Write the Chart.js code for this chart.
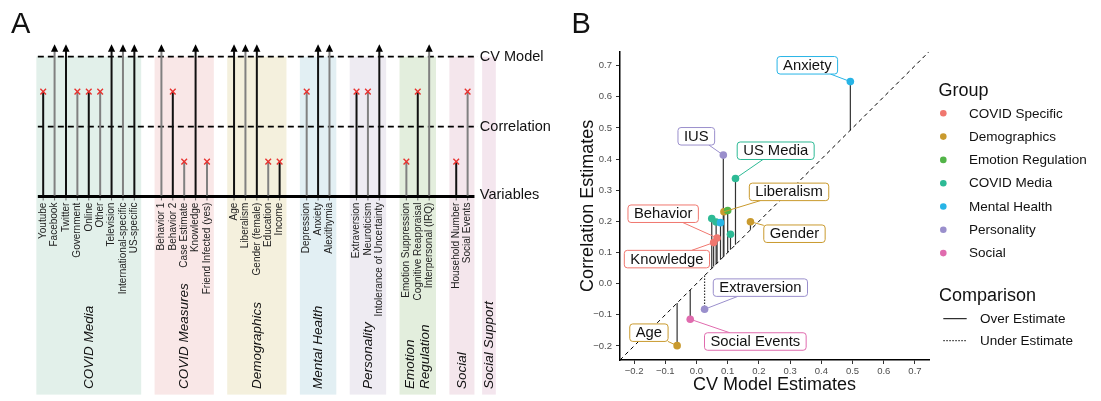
<!DOCTYPE html>
<html><head><meta charset="utf-8">
<script src="https://cdn.jsdelivr.net/npm/chart.js@4.4.1/dist/chart.umd.min.js"></script>
<style>
html,body{margin:0;padding:0;background:#fff;width:1101px;height:401px;overflow:hidden;}
#wa{position:absolute;left:0;top:0;width:560px;height:401px;}
#wb{position:absolute;left:560px;top:0;width:541px;height:401px;}
</style></head><body>
<div id="wa"><canvas id="ca"></canvas></div>
<div id="wb"><canvas id="cb"></canvas></div>
<script>
// ================= DATA =================
// Panel A
const groupsA = ['COVID Media','COVID Measures','Demographics','Mental Health','Personality','Emotion\nRegulation','Social','Social Support'];
const groupVarsA = [
  ['Youtube','Facebook','Twitter','Government','Online','Other','Television','International-specific','US-specific'],
  ['Behavior 1','Behavior 2','Case Estimate','Knowledge','Friend Infected (yes)'],
  ['Age','Liberalism','Gender (female)','Education','Income'],
  ['Depression','Anxiety','Alexithymia'],
  ['Extraversion','Neuroticism','Intolerance of Uncertainty'],
  ['Emotion Suppression','Cognitive Reappraisal','Interpersonal (IRQ)'],
  ['Household Number','Social Events'],
  []
];
// 'cv' = retained past the CV model, 'high' = dropped between correlation and CV model, 'low' = dropped below correlation
const groupLevelsA = [
  ['high','cv','cv','high','high','high','cv','cv','cv'],
  ['cv','high','low','cv','low'],
  ['cv','cv','cv','low','low'],
  ['high','cv','cv'],
  ['high','high','cv'],
  ['low','high','cv'],
  ['low','high'],
  []
];
const levelNamesA = ['Variables','Correlation','CV Model'];

// Panel B
const pointLabels   = ['Anxiety','IUS','US Media','Liberalism','','Gender','','','','','Behavior','Knowledge','Extraversion','Social Events','Age'];
const cvEstimates   = [0.493, 0.086, 0.125, 0.088, 0.100, 0.173, 0.049, 0.063, 0.109, 0.077, 0.066, 0.055, 0.026, -0.020, -0.062];
const corEstimates  = [0.649, 0.413, 0.338, 0.231, 0.235, 0.199, 0.209, 0.198, 0.159, 0.196, 0.147, 0.132, -0.082, -0.114, -0.199];
const pointGroups   = ['Mental Health','Personality','COVID Media','Demographics','Emotion Regulation','Demographics','COVID Media','COVID Media','COVID Media','Mental Health','COVID Specific','COVID Specific','Personality','Social','Demographics'];
const pointCompare  = ['Over Estimate','Over Estimate','Over Estimate','Over Estimate','Over Estimate','Over Estimate','Over Estimate','Over Estimate','Over Estimate','Over Estimate','Over Estimate','Over Estimate','Under Estimate','Over Estimate','Over Estimate'];
const legendGroups  = ['COVID Specific','Demographics','Emotion Regulation','COVID Media','Mental Health','Personality','Social'];
const compareLevels = ['Over Estimate','Under Estimate'];
const tickValuesB   = [-0.2,-0.1,0.0,0.1,0.2,0.3,0.4,0.5,0.6,0.7];

// ================= STYLE / LAYOUT =================
const FONT = '"Liberation Sans", Arial, Helvetica, sans-serif';
const bandColors = ['#E2F0EA','#F9E7E7','#F4F0DD','#E2EFF3','#EEEBF2','#E3EEDD','#F4E6EC','#F4E6EE'];
const groupColors = {
  'COVID Specific':'#F0776F','Demographics':'#C99A2E','Emotion Regulation':'#52B448',
  'COVID Media':'#2DBA95','Mental Health':'#27B4E6','Personality':'#9A8FCC','Social':'#E06BAE'
};
const levelValue = {cv:2.08, high:1.5, low:0.5};
const GROUP_GAP = 1.374;
const SLOT_PX = 11.62, X0_PX = 38.53;

// positions of variables along panel A
const varsA = [];
let gIdx = 0;
groupVarsA.forEach((vars, g) => {
  vars.forEach((name, j) => {
    varsA.push({name, g, j, idx: gIdx, pos: gIdx + GROUP_GAP * g, level: groupLevelsA[g][j]});
    gIdx++;
  });
});
const bandsA = groupsA.map((name, g) => {
  const vs = varsA.filter(v => v.g === g);
  if (vs.length) return {name, g, from: vs[0].pos - 0.6, to: vs[vs.length-1].pos + 0.6};
  const c = gIdx - 0.5 + GROUP_GAP * g;
  return {name, g, from: c - 0.6, to: c + 0.6};
});
const lastPos = varsA[varsA.length-1].pos;

// ================= PANEL A =================
const panelAPlugin = {
  id: 'panelA',
  beforeDatasetsDraw(chart) {
    const ctx = chart.ctx, xs = chart.scales.x, ys = chart.scales.y;
    const X = v => xs.getPixelForValue(v), Y = v => ys.getPixelForValue(v);
    ctx.save();
    // bands
    bandsA.forEach(b => {
      ctx.fillStyle = bandColors[b.g];
      ctx.fillRect(X(b.from), Y(2), X(b.to) - X(b.from), Y(-2.83) - Y(2));
    });
    // dashed reference lines
    const lx0 = X(-0.47), lx1 = X(lastPos + 0.9);
    ctx.strokeStyle = '#000'; ctx.lineWidth = 1.8; ctx.setLineDash([6,4]);
    [1,2].forEach(l => { ctx.beginPath(); ctx.moveTo(lx0, Y(l)); ctx.lineTo(lx1, Y(l)); ctx.stroke(); });
    ctx.setLineDash([]);
    // baseline
    ctx.lineWidth = 3;
    ctx.beginPath(); ctx.moveTo(lx0, Y(0)); ctx.lineTo(X(lastPos + 0.6), Y(0)); ctx.stroke();
    // stems + arrow heads + axis ticks
    varsA.forEach(v => {
      const x = X(v.pos);
      ctx.strokeStyle = v.idx % 2 === 0 ? '#111' : '#808080';
      ctx.lineWidth = 2;
      ctx.beginPath(); ctx.moveTo(x, Y(0) - 1); ctx.lineTo(x, Y(levelValue[v.level])); ctx.stroke();
      if (v.level === 'cv') {
        const tip = Y(2.177), base = Y(2.07);
        ctx.fillStyle = '#000';
        ctx.beginPath(); ctx.moveTo(x, tip); ctx.lineTo(x - 3.6, base); ctx.lineTo(x + 3.6, base); ctx.closePath(); ctx.fill();
      }
      ctx.strokeStyle = '#666'; ctx.lineWidth = 1;
      ctx.beginPath(); ctx.moveTo(x, Y(0) + 1.5); ctx.lineTo(x, Y(0) + 3.8); ctx.stroke();
    });
    // variable labels
    ctx.fillStyle = '#222';
    ctx.font = '10px ' + FONT;
    ctx.textAlign = 'right'; ctx.textBaseline = 'middle';
    varsA.forEach(v => {
      ctx.save(); ctx.translate(X(v.pos), Y(0) + 6); ctx.rotate(-Math.PI/2);
      ctx.fillText(v.name, 0, 0); ctx.restore();
    });
    // group labels
    ctx.font = 'italic 13.5px ' + FONT;
    ctx.textAlign = 'left'; ctx.fillStyle = '#111';
    bandsA.forEach(b => {
      const lines = b.name.split('\n');
      const cx = (X(b.from) + X(b.to)) / 2;
      lines.forEach((ln, k) => {
        const off = (k - (lines.length - 1) / 2) * 15;
        ctx.save(); ctx.translate(cx + off, 389); ctx.rotate(-Math.PI/2);
        ctx.fillText(ln, 0, 0); ctx.restore();
      });
    });
    // level names
    ctx.font = '14.5px ' + FONT; ctx.fillStyle = '#111';
    levelNamesA.forEach((n, l) => ctx.fillText(n, lx1 + 2, Y(l) - (l === 0 ? 2 : 0)));
    // panel letter
    ctx.font = '29px ' + FONT; ctx.textBaseline = 'alphabetic'; ctx.fillStyle = '#111';
    ctx.fillText('A', 11, 32.5);
    ctx.restore();
  }
};

const dropped = varsA.filter(v => v.level !== 'cv');
new Chart(document.getElementById('ca'), {
  type: 'scatter',
  data: { datasets: [{
    data: dropped.map(v => ({x: v.pos, y: levelValue[v.level]})),
    pointStyle: 'crossRot', pointRadius: 4, pointBorderColor: '#E8322F', pointBorderWidth: 1.4,
    pointHoverRadius: 4
  }]},
  options: {
    responsive: true, maintainAspectRatio: false, animation: false,
    layout: {padding: 0},
    plugins: {legend: {display: false}, tooltip: {enabled: false}},
    scales: {
      x: {type: 'linear', display: false, min: -X0_PX / SLOT_PX, max: (560 - X0_PX) / SLOT_PX},
      y: {type: 'linear', display: false, min: (196.5 - 401) / 71.9, max: 196.5 / 71.9}
    }
  },
  plugins: [panelAPlugin]
});

// ================= PANEL B =================
const labelOffsets = { // pixel offset of label box centre from its point
  'Anxiety':[-43,-16.3], 'IUS':[-27,-18.8], 'US Media':[40.2,-27.7], 'Liberalism':[65.1,-19.9],
  'Gender':[44,12], 'Behavior':[-53.9,-24.2], 'Knowledge':[-46.7,16.5], 'Extraversion':[55.8,-21.6],
  'Social Events':[65.1,22.3], 'Age':[-28.2,-13]
};
const fmtTick = v => (v < -1e-9 ? '\u2212' : '') + Math.abs(v).toFixed(1);
const AX_MIN = -0.245, AX_MAX = 0.745;

function roundRect(ctx, x, y, w, h, r) {
  ctx.beginPath();
  ctx.moveTo(x + r, y); ctx.lineTo(x + w - r, y); ctx.arcTo(x + w, y, x + w, y + r, r);
  ctx.lineTo(x + w, y + h - r); ctx.arcTo(x + w, y + h, x + w - r, y + h, r);
  ctx.lineTo(x + r, y + h); ctx.arcTo(x, y + h, x, y + h - r, r);
  ctx.lineTo(x, y + r); ctx.arcTo(x, y, x + r, y, r); ctx.closePath();
}

const panelBPlugin = {
  id: 'panelB',
  beforeDatasetsDraw(chart) {
    const ctx = chart.ctx, xs = chart.scales.x, ys = chart.scales.y;
    ctx.save();
    cvEstimates.forEach((cv, i) => {
      const x = xs.getPixelForValue(cv);
      ctx.strokeStyle = '#333'; ctx.lineWidth = 1.2;
      ctx.setLineDash(pointCompare[i] === 'Under Estimate' ? [1.5, 1.5] : []);
      ctx.beginPath(); ctx.moveTo(x, ys.getPixelForValue(cv)); ctx.lineTo(x, ys.getPixelForValue(corEstimates[i])); ctx.stroke();
    });
    ctx.restore();
  },
  afterDatasetsDraw(chart) {
    const ctx = chart.ctx, xs = chart.scales.x, ys = chart.scales.y, ca = chart.chartArea;
    ctx.save();
    // labels with connectors
    ctx.font = '14.8px ' + FONT; ctx.textBaseline = 'middle'; ctx.textAlign = 'center';
    pointLabels.forEach((lab, i) => {
      if (!lab) return;
      const px = xs.getPixelForValue(cvEstimates[i]), py = ys.getPixelForValue(corEstimates[i]);
      const off = labelOffsets[lab];
      const cx = px + off[0], cy = py + off[1];
      const w = ctx.measureText(lab).width + 12, h = 17.5;
      const col = groupColors[pointGroups[i]];
      // connector: from point to box edge
      const dx = px - cx, dy = py - cy;
      const t = Math.min(Math.abs((w/2) / (dx || 1e-6)), Math.abs((h/2) / (dy || 1e-6)));
      ctx.strokeStyle = col; ctx.lineWidth = 1; ctx.setLineDash([]);
      ctx.beginPath(); ctx.moveTo(cx + dx * t, cy + dy * t); ctx.lineTo(px, py); ctx.stroke();
      roundRect(ctx, cx - w/2, cy - h/2, w, h, 3);
      ctx.fillStyle = '#fff'; ctx.fill();
      ctx.strokeStyle = col; ctx.stroke();
      ctx.fillStyle = '#111'; ctx.fillText(lab, cx, cy + 0.5);
    });
    // axis titles
    ctx.fillStyle = '#111'; ctx.font = '18px ' + FONT;
    ctx.fillText('CV Model Estimates', (ca.left + ca.right) / 2, 385);
    ctx.save(); ctx.translate(28, (ca.top + ca.bottom) / 2); ctx.rotate(-Math.PI/2);
    ctx.fillText('Correlation Estimates', 0, 0); ctx.restore();
    // legend
    ctx.textAlign = 'left';
    ctx.font = '18px ' + FONT; ctx.fillText('Group', 378.5, 91);
    ctx.font = '13.5px ' + FONT;
    legendGroups.forEach((g, k) => {
      const y = 113.3 + 23.3 * k;
      ctx.fillStyle = groupColors[g];
      ctx.beginPath(); ctx.arc(383.3, y, 3.3, 0, Math.PI * 2); ctx.fill();
      ctx.fillStyle = '#111'; ctx.fillText(g, 409, y + 0.5);
    });
    ctx.font = '18px ' + FONT; ctx.fillText('Comparison', 379, 296);
    ctx.font = '13.5px ' + FONT;
    compareLevels.forEach((c, k) => {
      const y = 318.7 + 22 * k;
      ctx.strokeStyle = '#000'; ctx.lineWidth = 1;
      ctx.setLineDash(k === 0 ? [] : [1.5, 1.5]);
      ctx.beginPath(); ctx.moveTo(383.3, y); ctx.lineTo(406.7, y); ctx.stroke();
      ctx.setLineDash([]);
      ctx.fillStyle = '#111'; ctx.fillText(c, 420, y + 0.5);
    });
    // panel letter
    ctx.font = '29px ' + FONT; ctx.textBaseline = 'alphabetic';
    ctx.fillText('B', 11.5, 32.5);
    ctx.restore();
  }
};

new Chart(document.getElementById('cb'), {
  type: 'scatter',
  data: { datasets: [
    { data: cvEstimates.map((x, i) => ({x, y: corEstimates[i]})),
      pointRadius: 3.8, pointHoverRadius: 3.8, pointBorderWidth: 0,
      pointBackgroundColor: pointGroups.map(g => groupColors[g]) },
    { type: 'line', data: [{x: AX_MIN, y: AX_MIN}, {x: AX_MAX, y: AX_MAX}],
      borderColor: '#000', borderWidth: 1, borderDash: [4, 3.5], pointRadius: 0, fill: false }
  ]},
  options: {
    responsive: true, maintainAspectRatio: false, animation: false,
    layout: {padding: {left: 0, right: 172, top: 51.7, bottom: 0}},
    plugins: {legend: {display: false}, tooltip: {enabled: false}},
    scales: {
      x: { type: 'linear', min: AX_MIN, max: AX_MAX,
        afterBuildTicks: s => { s.ticks = tickValuesB.map(value => ({value})); },
        afterFit: s => { s.height = 41; },
        ticks: { callback: fmtTick, font: {size: 9.5, family: FONT}, color: '#4d4d4d', padding: 2, maxRotation: 0, autoSkip: false },
        grid: { drawOnChartArea: false, drawTicks: true, tickLength: 4, color: '#333' },
        border: { display: true, color: '#000', width: 1.5 }
      },
      y: { type: 'linear', min: AX_MIN, max: AX_MAX,
        afterBuildTicks: s => { s.ticks = tickValuesB.map(value => ({value})); },
        afterFit: s => { s.width = 60; },
        ticks: { callback: fmtTick, font: {size: 9.5, family: FONT}, color: '#4d4d4d', padding: 4, autoSkip: false },
        grid: { drawOnChartArea: false, drawTicks: true, tickLength: 4, color: '#333' },
        border: { display: true, color: '#000', width: 1.5 }
      }
    }
  },
  plugins: [panelBPlugin]
});
</script>
</body></html>
